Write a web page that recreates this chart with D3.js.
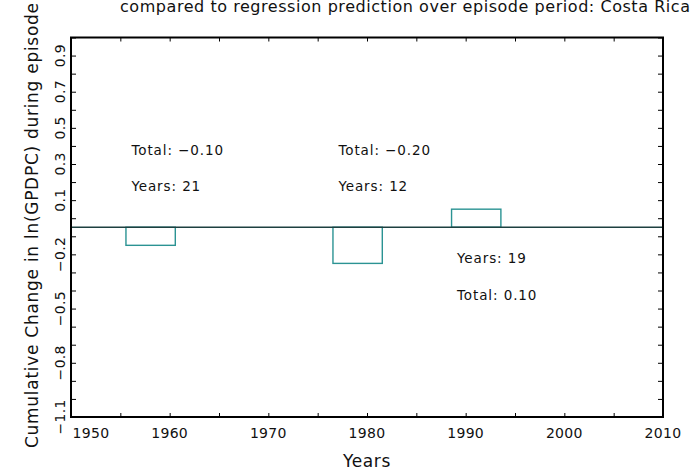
<!DOCTYPE html>
<html>
<head>
<meta charset="utf-8">
<script src="https://cdn.jsdelivr.net/npm/d3@7"></script>
<style>
  html, body { margin: 0; padding: 0; background: #fff; }
  svg { display: block; }
  text { font-family: "DejaVu Sans", sans-serif; fill: #111; }
</style>
</head>
<body>
<svg id="chart" width="697" height="472"></svg>
<script>
// ---- data ----
const titleText = "compared to regression prediction over episode period: Costa Rica";
const xTitle = "Years";
const yTitle = "Cumulative Change in ln(GPDPC) during episode";
const episodeBarStart = [1955.57, 1976.55, 1988.57];
const episodeBarLength = [5, 5, 5];
const episodeTotal = [-0.10, -0.20, 0.10];
const episodeYears = [21, 12, 19];
const totalLabels = ["Total: \u22120.10", "Total: \u22120.20", "Total: 0.10"];
const xMajorTicks = [1950, 1960, 1970, 1980, 1990, 2000, 2010];
const xMinorTicks = [1950, 1955, 1960, 1965, 1970, 1975, 1980, 1985, 1990, 1995, 2000, 2005, 2010];
const yLabelValues = [0.95, 0.75, 0.55, 0.35, 0.15, -0.15, -0.45, -0.75, -1.05];
const yLabelTexts = ["0.9", "0.7", "0.5", "0.3", "0.1", "\u22120.2", "\u22120.5", "\u22120.8", "\u22121.1"];
const yMinorTicks = d3.range(0, 22).map(k => +(1.05 - 0.1 * k).toFixed(2));
const xDomain = [1950, 2010];
const yDomain = [-1.05, 1.05];

// ---- layout ----
const svg = d3.select("#chart");
const L = 71, R = 663, T = 37.5, B = 417;
const x = d3.scaleLinear().domain(xDomain).range([L, R]);
const y = d3.scaleLinear().domain(yDomain).range([B, T]);

// ticks (inward)
const g = svg.append("g");
g.append("g").attr("transform", `translate(0,${B})`)
  .call(d3.axisBottom(x).tickValues(xMinorTicks).tickSize(-4).tickFormat(""))
  .call(s => s.select(".domain").remove());
g.append("g").attr("transform", `translate(0,${T})`)
  .call(d3.axisTop(x).tickValues(xMinorTicks).tickSize(-4).tickFormat(""))
  .call(s => s.select(".domain").remove());
g.append("g").attr("transform", `translate(${L},0)`)
  .call(d3.axisLeft(y).tickValues(yMinorTicks).tickSize(-5).tickFormat(""))
  .call(s => s.select(".domain").remove());
g.append("g").attr("transform", `translate(${R},0)`)
  .call(d3.axisRight(y).tickValues(yMinorTicks).tickSize(-5).tickFormat(""))
  .call(s => s.select(".domain").remove());
g.selectAll(".tick line").attr("stroke", "#000").attr("stroke-width", 1);

// x labels
svg.append("g").selectAll("text").data(xMajorTicks).join("text")
  .attr("x", (d, i) => x(d) + (i === 0 ? 20 : 0))
  .attr("y", 438)
  .attr("text-anchor", "middle")
  .attr("font-size", 14)
  .attr("letter-spacing", 0.3)
  .text(d => d);

// y labels (rotated)
svg.append("g").selectAll("text").data(yLabelValues).join("text")
  .attr("transform", d => `translate(65,${y(d)}) rotate(-90)`)
  .attr("text-anchor", "middle")
  .attr("font-size", 14)
  .attr("letter-spacing", 0.3)
  .text((d, i) => yLabelTexts[i]);

// bars
svg.append("g").selectAll("rect").data(episodeTotal).join("rect")
  .attr("x", (d, i) => x(episodeBarStart[i]))
  .attr("width", (d, i) => x(episodeBarStart[i] + episodeBarLength[i]) - x(episodeBarStart[i]))
  .attr("y", d => Math.min(y(d), y(0)))
  .attr("height", d => Math.abs(y(d) - y(0)))
  .attr("fill", "none")
  .attr("stroke", "#2b9393")
  .attr("stroke-width", 1.4);

// zero line
svg.append("line")
  .attr("x1", x(xDomain[0])).attr("x2", x(xDomain[1]))
  .attr("y1", y(0)).attr("y2", y(0))
  .attr("stroke", "#1d4040").attr("stroke-width", 1.5);

// annotations
const ann = svg.append("g").attr("font-size", 13.5).attr("letter-spacing", 0.9);
episodeTotal.forEach((v, i) => {
  const tx = x(episodeBarStart[i] + 0.55);
  const sgn = v < 0 ? 1 : -1;
  ann.append("text").attr("x", tx).attr("y", y(0.4 * sgn)).text(totalLabels[i]);
  ann.append("text").attr("x", tx).attr("y", y(0.2 * sgn)).text("Years: " + episodeYears[i]);
});

// frame
svg.append("rect")
  .attr("x", L).attr("y", T).attr("width", R - L).attr("height", B - T)
  .attr("fill", "none").attr("stroke", "#000").attr("stroke-width", 2);

// titles
svg.append("text")
  .attr("x", 120).attr("y", 12)
  .attr("font-size", 16)
  .attr("textLength", 570).attr("lengthAdjust", "spacing")
  .text(titleText);

svg.append("text")
  .attr("x", (L + R) / 2).attr("y", 467)
  .attr("text-anchor", "middle")
  .attr("font-size", 17)
  .attr("letter-spacing", 0.6)
  .text(xTitle);

svg.append("text")
  .attr("transform", `translate(38,448) rotate(-90)`)
  .attr("text-anchor", "start")
  .attr("font-size", 17)
  .attr("letter-spacing", 0.72)
  .text(yTitle);
</script>
</body>
</html>
